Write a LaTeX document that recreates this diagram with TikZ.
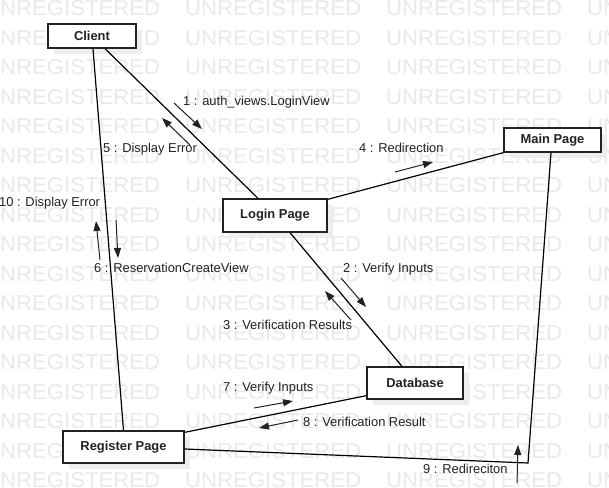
\documentclass[tikz,border=0pt]{standalone}
\usepackage{fontspec}
\setmainfont{Liberation Sans}
\usetikzlibrary{arrows.meta,shadows}
\definecolor{wm}{HTML}{E9E9E9}
\definecolor{shade}{HTML}{EDEDED}
\definecolor{ink}{HTML}{222222}
\begin{document}
\begin{tikzpicture}[x=1pt,y=-1pt,
  wmtext/.style={anchor=west,inner sep=0pt,text=wm,font=\fontsize{21.5}{22}\selectfont},
  obj/.style={draw=ink,line width=1.3pt,fill=white,text=ink,inner sep=0pt,
    font=\bfseries\fontsize{12.9}{15}\selectfont,
    drop shadow={shadow xshift=6pt,shadow yshift=-6pt,fill=shade,opacity=1}},
  link/.style={draw=black,line width=1.2pt},
  msg/.style={draw=ink,line width=1pt,-{Triangle[length=10pt,width=7pt]}},
  lbl/.style={anchor=west,inner sep=0pt,text=ink,font=\fontsize{12.9}{15}\selectfont}]
\useasboundingbox (0,0) rectangle (609,487);
\fill[white] (0,0) rectangle (609,487);
% watermark
\foreach \j in {0,...,16}{
  \foreach \k in {0,...,3}{
    \node[wmtext] at ({-16+201*\k},{8.5+29.5*\j}) {\scalebox{1.03}[1]{UNREGISTERED}};
  }
}
% objects
\node[obj,minimum width=88pt,minimum height=24pt] (client) at (92,36) {Client};
\node[obj,minimum width=104pt,minimum height=33pt] (login) at (275,215.5) {Login Page};
\node[obj,minimum width=97pt,minimum height=24pt] (main) at (552.5,140) {Main Page};
\node[obj,minimum width=96pt,minimum height=32pt] (db) at (415,383) {Database};
\node[obj,minimum width=121pt,minimum height=32pt] (reg) at (123.5,447) {Register Page};
\coordinate (corner) at (528,463);
% links
\draw[link] ([xshift=13pt]client.south) -- ([xshift=-17pt]login.north);
\draw[link] ([xshift=1pt]client.south) -- (reg.north);
\draw[link] ([yshift=-1pt]login.north east) -- (main.south west);
\draw[link] ([xshift=15pt]login.south) -- ([xshift=-13pt]db.north);
\draw[link] ([yshift=4pt]db.south west) -- ([yshift=-2pt]reg.north east);
\draw[link] ([yshift=-2pt]reg.east) -- (corner) -- ([xshift=-1.5pt]main.south);
% messages
\draw[msg] (174,103) -- (202,129);
\node[lbl] (m1) at (183,102) {1 : auth\_views.LoginView};
\draw[msg] (190,145) -- (162,118);
\node[lbl] (m5) at (103,149) {5 : Display Error};
\draw[msg] (100,260) -- (96,221);
\node[lbl] (m10) at (-1,203) {10 : Display Error};
\draw[msg] (116,220) -- (118,258);
\node[lbl] (m6) at (94,268) {6 : ReservationCreateView};
\draw[msg] (395,172) -- (433,162);
\node[lbl] (m4) at (359,148) {4 : Redirection};
\draw[msg] (341,278) -- (366,307);
\node[lbl] (m2) at (343,269) {2 : Verify Inputs};
\draw[msg] (351,320) -- (325,291);
\node[lbl] (m3) at (223,325) {3 : Verification Results};
\draw[msg] (254,408) -- (293,401);
\node[lbl] (m7) at (223,388) {7 : Verify Inputs};
\draw[msg] (298,420) -- (259,428);
\node[lbl] (m8) at (303,422) {8 : Verification Result};
\draw[msg] (517,483) -- (518,445);
\node[lbl] (m9) at (423,469) {9 : Redireciton};
\end{tikzpicture}
\end{document}
